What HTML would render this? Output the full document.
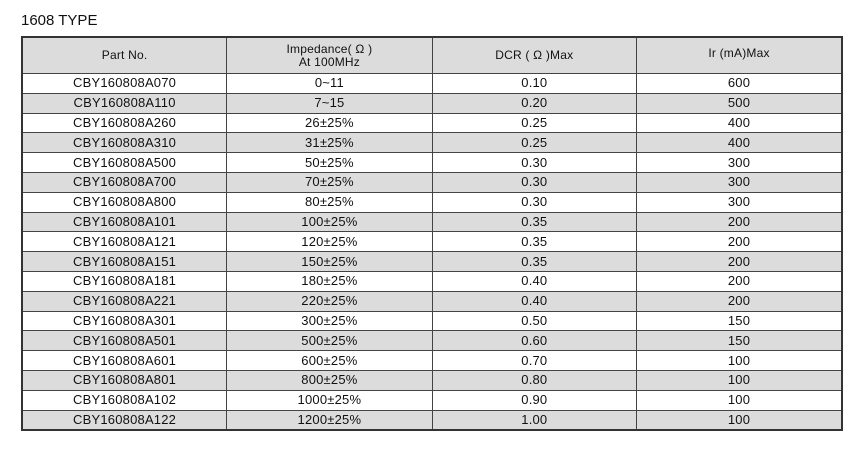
<!DOCTYPE html>
<html><head><meta charset="utf-8"><style>
body{margin:0;width:861px;height:450px;background:#fff;font-family:"Liberation Sans",sans-serif;color:#111;position:relative;overflow:hidden}
#t{position:absolute;left:21px;top:12px;font-size:15px}
table{position:absolute;left:21px;top:36px;width:822px;border-collapse:collapse;border:2px solid #333;font-size:13px;letter-spacing:0.2px}
td{border:1px solid #444;text-align:center;padding:0;height:18.8px;line-height:18px}
tr.g td{background:#dcdcdd}
tr.h td{height:35px;line-height:13px;background:#dcdcdd;font-size:12px}
</style></head><body>
<div id="t">1608 TYPE</div>
<table>
<colgroup><col style="width:205px"><col style="width:206px"><col style="width:205px"><col style="width:206px"></colgroup>
<tr class="h"><td>Part No.</td><td>Impedance( Ω )<br>At 100MHz</td><td>DCR ( Ω )Max</td><td style="vertical-align:top;padding-top:9px;height:26px">Ir (mA)Max</td></tr>
<tr><td>CBY160808A070</td><td>0~11</td><td>0.10</td><td>600</td></tr>
<tr class="g"><td>CBY160808A110</td><td>7~15</td><td>0.20</td><td>500</td></tr>
<tr><td>CBY160808A260</td><td>26±25%</td><td>0.25</td><td>400</td></tr>
<tr class="g"><td>CBY160808A310</td><td>31±25%</td><td>0.25</td><td>400</td></tr>
<tr><td>CBY160808A500</td><td>50±25%</td><td>0.30</td><td>300</td></tr>
<tr class="g"><td>CBY160808A700</td><td>70±25%</td><td>0.30</td><td>300</td></tr>
<tr><td>CBY160808A800</td><td>80±25%</td><td>0.30</td><td>300</td></tr>
<tr class="g"><td>CBY160808A101</td><td>100±25%</td><td>0.35</td><td>200</td></tr>
<tr><td>CBY160808A121</td><td>120±25%</td><td>0.35</td><td>200</td></tr>
<tr class="g"><td>CBY160808A151</td><td>150±25%</td><td>0.35</td><td>200</td></tr>
<tr><td>CBY160808A181</td><td>180±25%</td><td>0.40</td><td>200</td></tr>
<tr class="g"><td>CBY160808A221</td><td>220±25%</td><td>0.40</td><td>200</td></tr>
<tr><td>CBY160808A301</td><td>300±25%</td><td>0.50</td><td>150</td></tr>
<tr class="g"><td>CBY160808A501</td><td>500±25%</td><td>0.60</td><td>150</td></tr>
<tr><td>CBY160808A601</td><td>600±25%</td><td>0.70</td><td>100</td></tr>
<tr class="g"><td>CBY160808A801</td><td>800±25%</td><td>0.80</td><td>100</td></tr>
<tr><td>CBY160808A102</td><td>1000±25%</td><td>0.90</td><td>100</td></tr>
<tr class="g"><td>CBY160808A122</td><td>1200±25%</td><td>1.00</td><td>100</td></tr>
</table>
</body></html>
